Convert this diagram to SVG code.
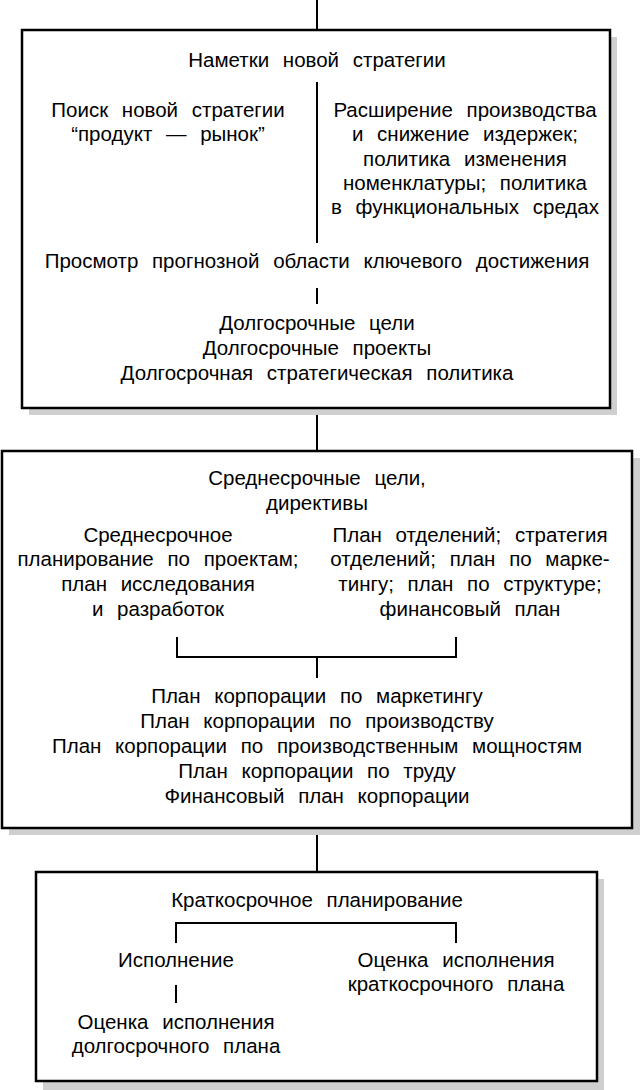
<svg xmlns="http://www.w3.org/2000/svg" width="640" height="1090" viewBox="0 0 640 1090">
<style>
.box{fill:#fff;stroke:#000;stroke-width:2.5}
.sh{fill:#cfcfcf}
.ln{stroke:#000;stroke-width:2;fill:none}
text{font-family:"Liberation Sans",Arial,sans-serif;font-size:20.5px;fill:#000;text-anchor:middle;word-spacing:8px}
</style>
<rect width="640" height="1090" fill="#fff"/>
<g id="connectors">
<line class="ln" x1="317" y1="0" x2="317" y2="30"/>
<line class="ln" x1="317" y1="408" x2="317" y2="451"/>
<line class="ln" x1="317" y1="828" x2="317" y2="872"/>
</g>
<g id="box1">
<rect class="sh" x="29" y="37" width="588" height="378"/>
<rect class="box" x="22" y="30" width="588" height="378"/>
<text x="317" y="67">Наметки новой стратегии</text>
<line class="ln" x1="317" y1="82" x2="317" y2="243"/>
<text x="168" y="117">Поиск новой стратегии</text>
<text x="168" y="141">“продукт — рынок”</text>
<text x="465" y="117">Расширение производства</text>
<text x="465" y="141">и снижение издержек;</text>
<text x="465" y="166">политика изменения</text>
<text x="465" y="190">номенклатуры; политика</text>
<text x="465" y="214">в функциональных средах</text>
<text x="317" y="268">Просмотр прогнозной области ключевого достижения</text>
<line class="ln" x1="317" y1="288" x2="317" y2="304"/>
<text x="317" y="330">Долгосрочные цели</text>
<text x="317" y="355">Долгосрочные проекты</text>
<text x="317" y="380">Долгосрочная стратегическая политика</text>
</g>
<g id="box2">
<rect class="sh" x="9" y="458" width="631" height="377"/>
<rect class="box" x="2" y="451" width="630" height="377"/>
<text x="317" y="485">Среднесрочные цели,</text>
<text x="317" y="510">директивы</text>
<text x="158" y="542">Среднесрочное</text>
<text x="158" y="566">планирование по проектам;</text>
<text x="158" y="591">план исследования</text>
<text x="158" y="616">и разработок</text>
<text x="470" y="542">План отделений; стратегия</text>
<text x="470" y="566">отделений; план по марке-</text>
<text x="470" y="591">тингу; план по структуре;</text>
<text x="470" y="616">финансовый план</text>
<path class="ln" d="M177 637 V657 H456 V637 M317 657 V678"/>
<text x="317" y="703">План корпорации по маркетингу</text>
<text x="317" y="728">План корпорации по производству</text>
<text x="317" y="753">План корпорации по производственным мощностям</text>
<text x="317" y="778">План корпорации по труду</text>
<text x="317" y="803">Финансовый план корпорации</text>
</g>
<g id="box3">
<rect class="sh" x="43" y="879" width="561" height="211"/>
<rect class="box" x="36" y="872" width="561" height="209"/>
<text x="317" y="907">Краткосрочное планирование</text>
<path class="ln" d="M176 943 V923 H456 V943"/>
<text x="176" y="967">Исполнение</text>
<text x="456" y="967">Оценка исполнения</text>
<text x="456" y="991">краткосрочного плана</text>
<line class="ln" x1="176" y1="985" x2="176" y2="1003"/>
<text x="176" y="1029">Оценка исполнения</text>
<text x="176" y="1053">долгосрочного плана</text>
</g>
</svg>
